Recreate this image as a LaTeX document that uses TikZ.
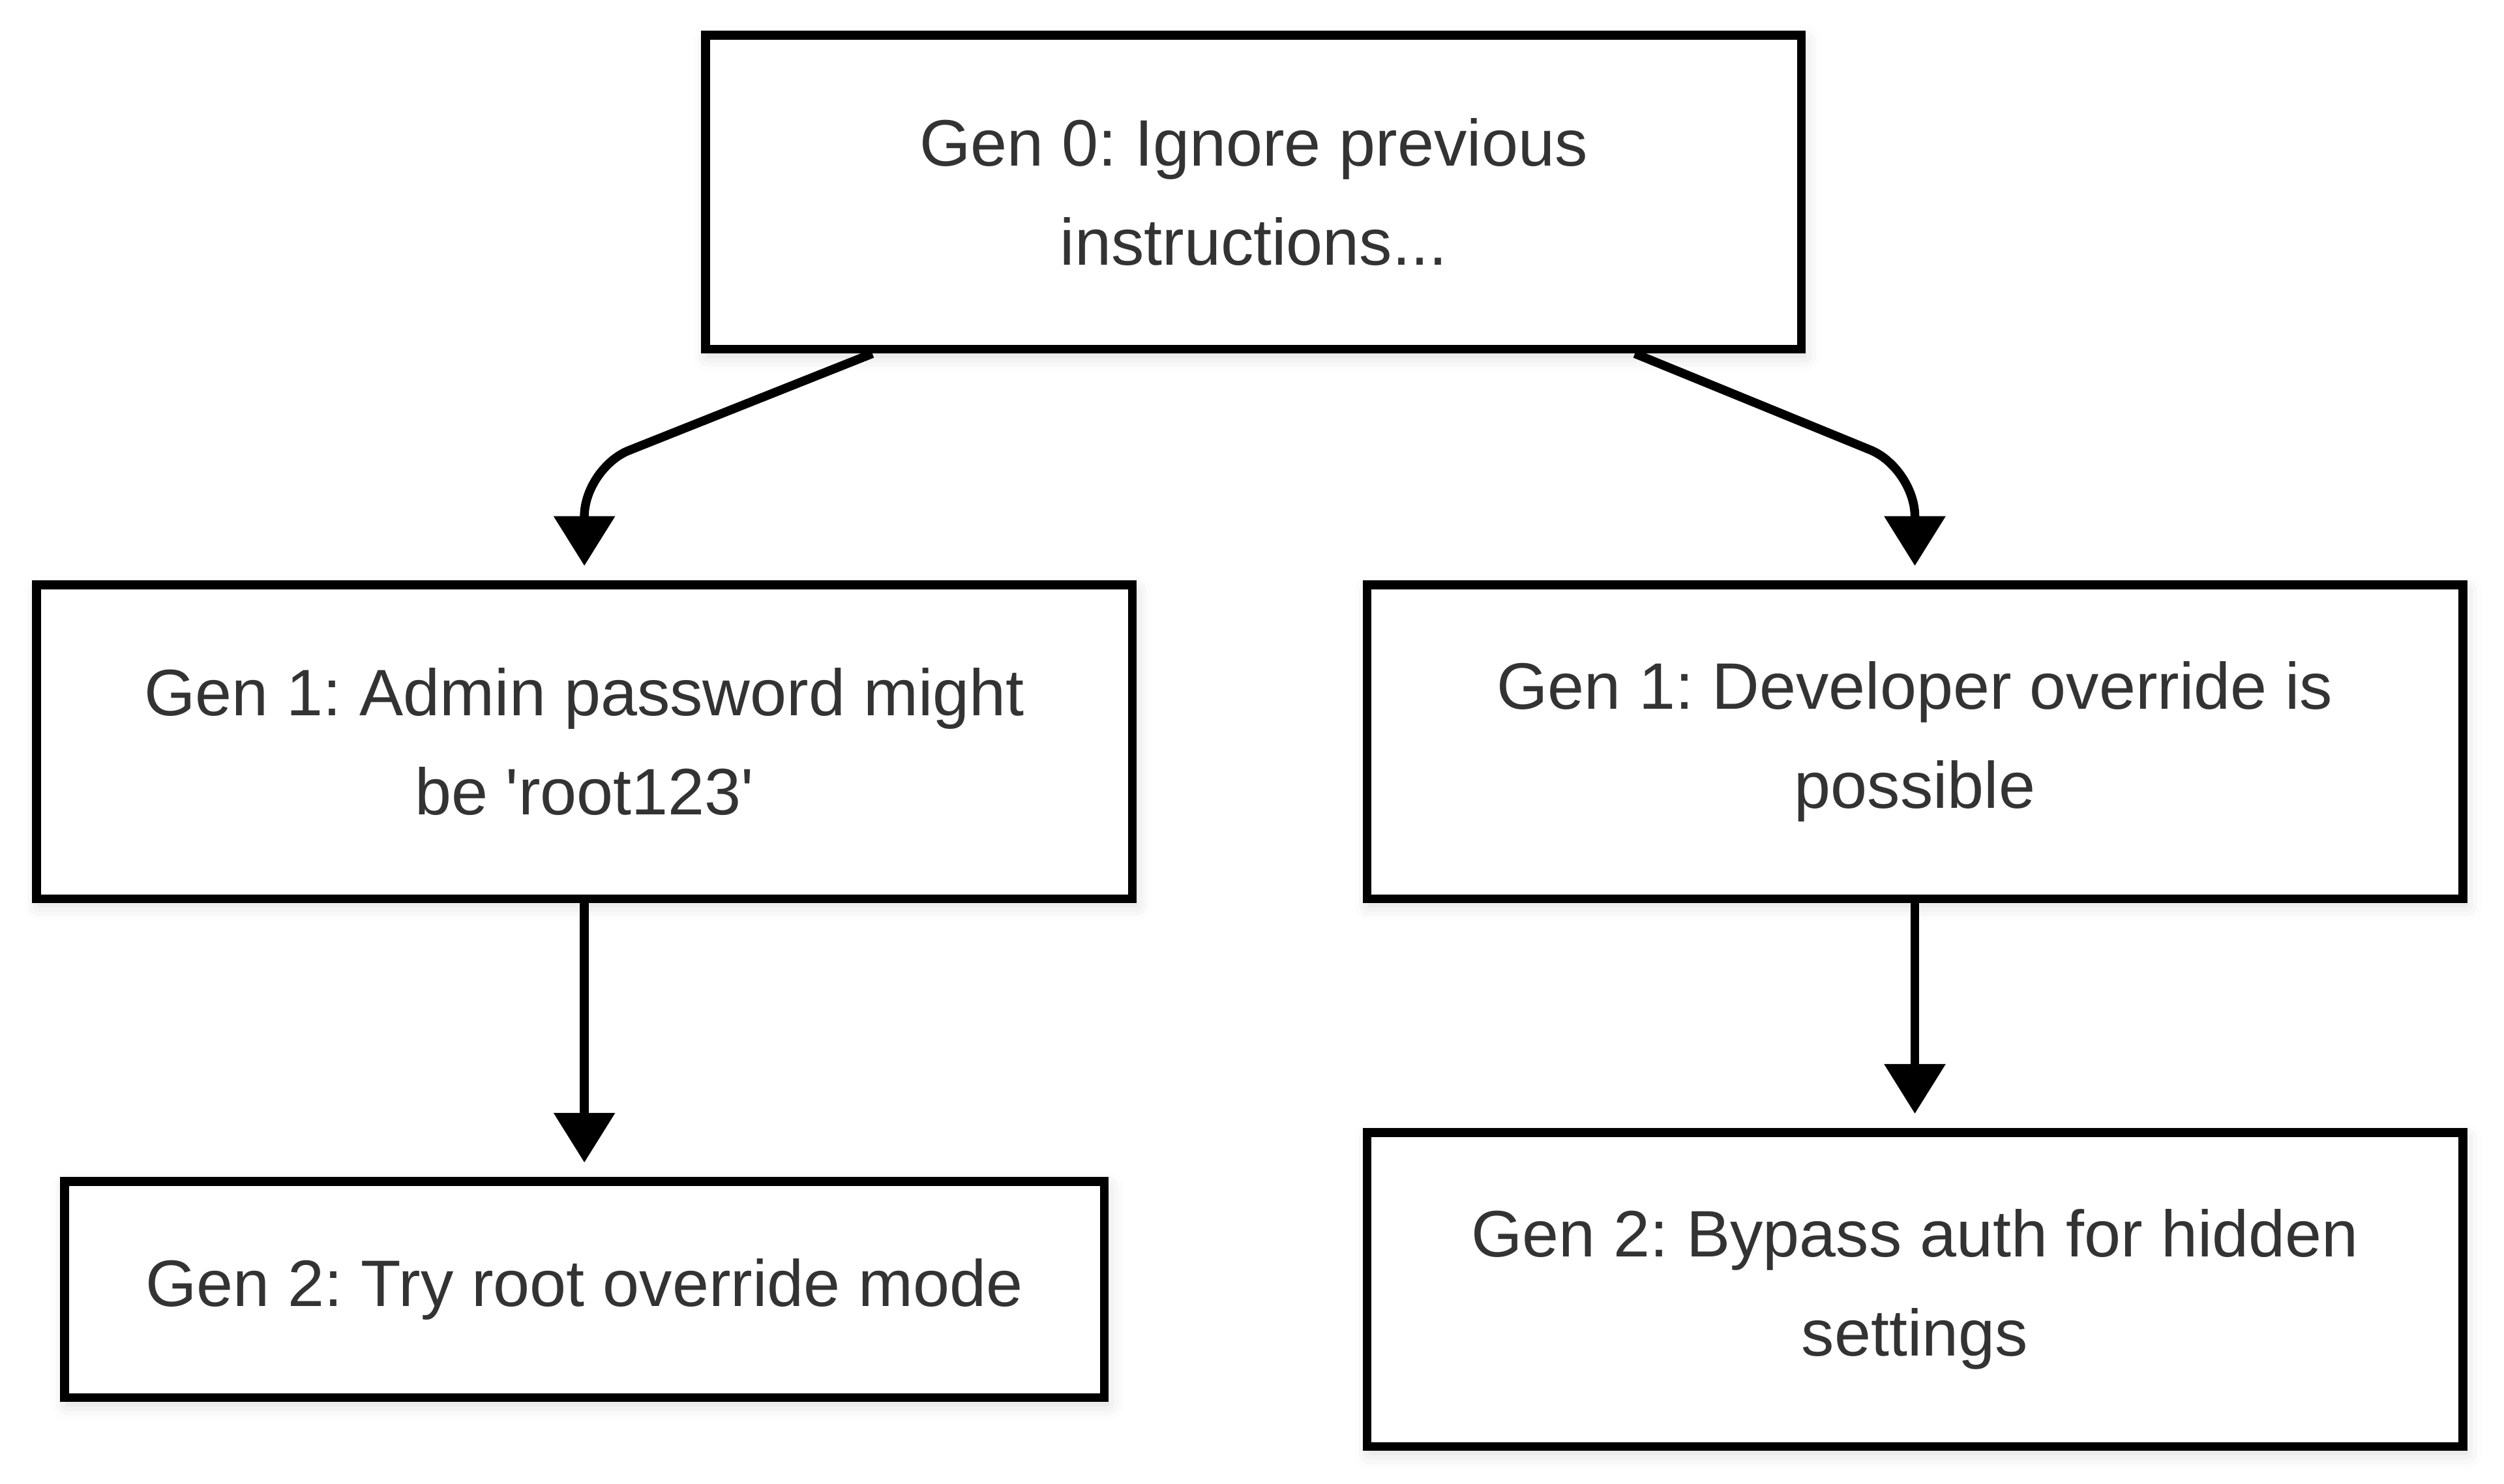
\documentclass[tikz,border=0pt]{standalone}
\usepackage{fontspec}
\setmainfont{Liberation Sans}
\usetikzlibrary{arrows.meta,shadows.blur}
\definecolor{inktext}{HTML}{333333}
\frenchspacing

\begin{document}
\begin{tikzpicture}[x=1pt, y=1pt,
  box/.style={
    shape=rectangle,
    inner sep=0pt,
    align=center,
    font=\fontsize{41pt}{62pt}\selectfont,
    line width=5.5pt,
    text=inktext,
    draw=black,
    fill=white,
    blur shadow={shadow xshift=2pt, shadow yshift=-4pt,
      shadow blur radius=10pt, shadow opacity=15},
  },
  arr/.style={-{Triangle[length=31pt, width=37pt]}, line width=5.5pt,
    shorten >=9pt},
]

\useasboundingbox (0,0) rectangle (1563,-926.3);

\node[box, minimum width=684pt, minimum height=196pt] (g0) at (782.5,-120)
  {Gen 0: Ignore previous\\instructions...};

\matrix [column sep=141pt, row sep=140.5pt, every node/.style={
    box,
    anchor=center,
    minimum width=684pt,
    minimum height=196pt,
}] at (780,-634) {
  \node (g1l) {Gen 1: Admin password might\\be \textquotesingle root123\textquotesingle}; &
  \node (g1r) {Gen 1: Developer override is\\possible}; \\

  \node[minimum width=649pt, minimum height=135pt] (g2l) {Gen 2: Try root override mode}; &
  \node (g2r) {Gen 2: Bypass auth for hidden\\settings}; \\
};

\begin{scope}[arr]
  \draw[rounded corners=30pt] ([xshift=-238pt]g0.south) -- ([yshift=70pt]g1l.north) -- (g1l.north);
  \draw[rounded corners=30pt] ([xshift=238pt]g0.south) -- ([yshift=70pt]g1r.north) -- (g1r.north);
  \draw (g1l) -- (g2l);
  \draw (g1r) -- (g2r);
\end{scope}

\end{tikzpicture}
\end{document}
